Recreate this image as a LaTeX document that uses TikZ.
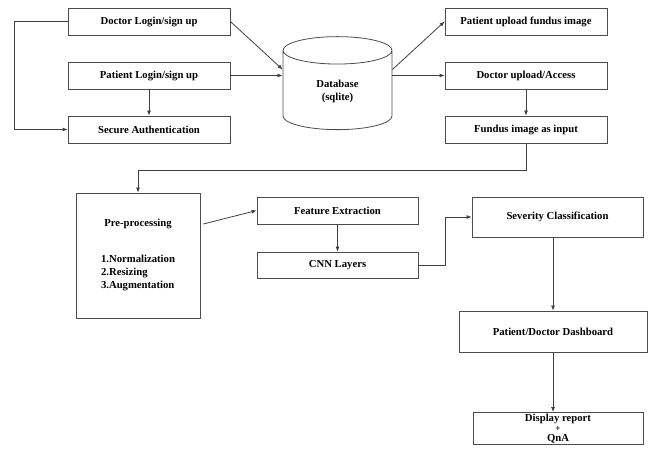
\documentclass[tikz,border=0pt]{standalone}
\usepackage{fontspec}
\setmainfont{Liberation Serif}
\usetikzlibrary{arrows.meta,shapes.geometric,calc}

\begin{document}
\begin{tikzpicture}[x=1pt,y=-1pt,
	box/.style={draw=black!70, line width=0.8pt, minimum width=162pt, minimum height=27pt,
		inner sep=1pt, align=center, font=\bfseries\fontsize{10.7}{13}\selectfont},
	link/.style={draw=black!75, line width=0.8pt, -{Latex[length=5pt,width=4pt]}}]

	\useasboundingbox (0,0) rectangle (649,454);

	% ---- login side

	\node[box] (doclogin) at (149,21.5) {Doctor Login/sign up};
	\node[box] (patlogin) at (149,75.5) {Patient Login/sign up};
	\node[box] (secauth) at (149,129.5) {Secure Authentication};

	\draw[link] (doclogin.west) -- ++(-53,0) |- (secauth.west);
	\draw[link] (patlogin.south) -- (secauth.north);

	% ---- database

	\node[box, cylinder, shape border rotate=90, aspect=0.62,
		minimum width=109pt, minimum height=93pt] (db) at (337.5,91.5) {Database\\(sqlite)};

	\draw[link] (doclogin.east) -- ([yshift=6pt]patlogin.east -| db.west);
	\draw[link] (patlogin.east) -- (patlogin.east -| db.west);

	% ---- upload side

	\node[box] (patupload) at (526,21.5) {Patient upload fundus image};
	\node[box] (docupload) at (526,75.5) {Doctor upload/Access};
	\node[box] (fundus) at (526,129.5) {Fundus image as input};

	\draw[link] ([yshift=6pt]docupload.west -| db.east) -- (patupload.west);
	\draw[link] (docupload.west -| db.east) -- (docupload.west);
	\draw[link] (docupload.south) -- (fundus.north);

	% ---- processing

	\node[box, minimum width=124pt, minimum height=125pt] (preproc) at (138,255.5)
		{Pre-processing\\[24pt]\begin{tabular}{@{}l@{}}1.Normalization\\2.Resizing\\3.Augmentation\end{tabular}};
	\node[box, minimum width=161pt] (featext) at (337.5,210.5) {Feature Extraction};
	\node[box, minimum width=161pt, minimum height=26pt] (cnn) at (337.5,265) {CNN Layers};

	\draw[link] (fundus.south) -- ++(0,27) -| (preproc.north);
	\draw[link] ([xshift=3pt,yshift=31.5pt]preproc.east) -- (featext.west);
	\draw[link] (featext.south) -- (cnn.north);

	% ---- results

	\node[box, minimum width=171pt, minimum height=40pt] (severity) at (557.5,217) {Severity Classification};
	\node[box, minimum width=188pt, minimum height=41pt] (dashboard) at (553,331.5) {Patient/Doctor Dashboard};
	\node[box, minimum width=170pt, minimum height=32pt] (report) at (558,428.5)
		{Display report\\[-3pt]{\fontsize{9}{9}\selectfont+}\\[-3pt]QnA};

	\draw[link] (cnn.east) -- ++(27,0) |- (severity.west);
	\draw[link] (dashboard.north |- severity.south) -- (dashboard.north);
	\draw[link] (dashboard.south) -- (dashboard.south |- report.north);

\end{tikzpicture}
\end{document}
